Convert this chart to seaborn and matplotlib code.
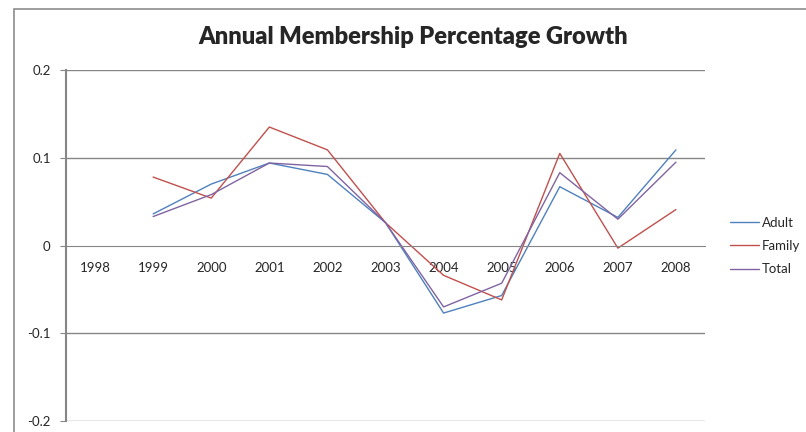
import pandas as pd
import numpy as np
import matplotlib
matplotlib.use('Agg')
import matplotlib.pyplot as plt
import seaborn as sns
from matplotlib.patches import Rectangle

# values
years = ['1998', '1999', '2000', '2001', '2002', '2003', '2004', '2005', '2006', '2007', '2008']
adult = [np.nan, 0.036, 0.070, 0.094, 0.081, 0.026, -0.077, -0.057, 0.067, 0.032, 0.109]
family = [np.nan, 0.078, 0.054, 0.135, 0.109, 0.026, -0.034, -0.062, 0.105, -0.003, 0.041]
total = [np.nan, 0.033, 0.058, 0.094, 0.090, 0.026, -0.070, -0.043, 0.083, 0.030, 0.095]
series_names = ['Adult', 'Family', 'Total']
colors = ['#4F81BD', '#C0504D', '#8064A2']

# long format for seaborn
df = pd.DataFrame({
    'pos': list(range(len(years))) * 3,
    'value': adult + family + total,
    'series': [s for s in series_names for _ in years],
})
df = df.dropna()

sns.set_style('white')
plt.rcParams['font.family'] = ['Lato', 'DejaVu Sans']

fig = plt.figure(figsize=(8.06, 4.32), dpi=100)
ax = fig.add_axes([66/806, 1 - 421/432, (705 - 66)/806, (421 - 70)/432])

sns.lineplot(data=df, x='pos', y='value', hue='series', palette=colors,
             hue_order=series_names, linewidth=1.0, ax=ax, legend=False)

grid_c = '#868686'
ax.set_xlim(-0.5, len(years) - 0.5)
ax.set_ylim(-0.2, 0.2)
ax.set_yticks([-0.2, -0.1, 0, 0.1, 0.2])
ax.set_yticklabels(['-0.2', '-0.1', '0', '0.1', '0.2'], fontsize=9.5)
for v in [-0.2, -0.1, 0.1, 0.2]:
    ax.axhline(v, color=grid_c, lw=1.0, zorder=0)

# category axis sits on zero, ticks between categories
ax.spines['bottom'].set_position(('data', 0))
for s in ['top', 'right']:
    ax.spines[s].set_visible(False)
ax.spines['bottom'].set_color(grid_c)
ax.spines['left'].set_color(grid_c)
ax.spines['left'].set_linewidth(1.5)
ax.set_xticks(np.arange(-0.5, len(years), 1.0))
ax.set_xticklabels([])
ax.set_xticks(np.arange(len(years)), minor=True)
ax.set_xticklabels(years, minor=True, fontsize=9.5)
ax.tick_params(axis='x', which='major', direction='out', length=4, color=grid_c)
ax.tick_params(axis='x', which='minor', length=0, pad=12)
ax.tick_params(axis='y', direction='out', length=4, color=grid_c, pad=7, left=True)
ax.set_xlabel('')
ax.set_ylabel('')

ax.set_title('Annual Membership Percentage Growth', fontsize=17, fontweight='heavy',
             x=(413 - 66) / 639, y=1.0, pad=19)

handles = [plt.Line2D([], [], color=c, lw=1.0) for c in colors]
fig.legend(handles, series_names, loc='center left', bbox_to_anchor=(718/806, 1 - 246/432),
           frameon=False, fontsize=9.5, handlelength=2.2, handletextpad=0.25,
           labelspacing=0.85)

# chart area border
fig.add_artist(Rectangle((14/806, -0.1), 1.0, 1 - 9/432 + 0.1, transform=fig.transFigure,
                         fill=False, edgecolor='#8C8C8C', lw=1.2, clip_on=False))

fig.savefig('out.png', dpi=100)
